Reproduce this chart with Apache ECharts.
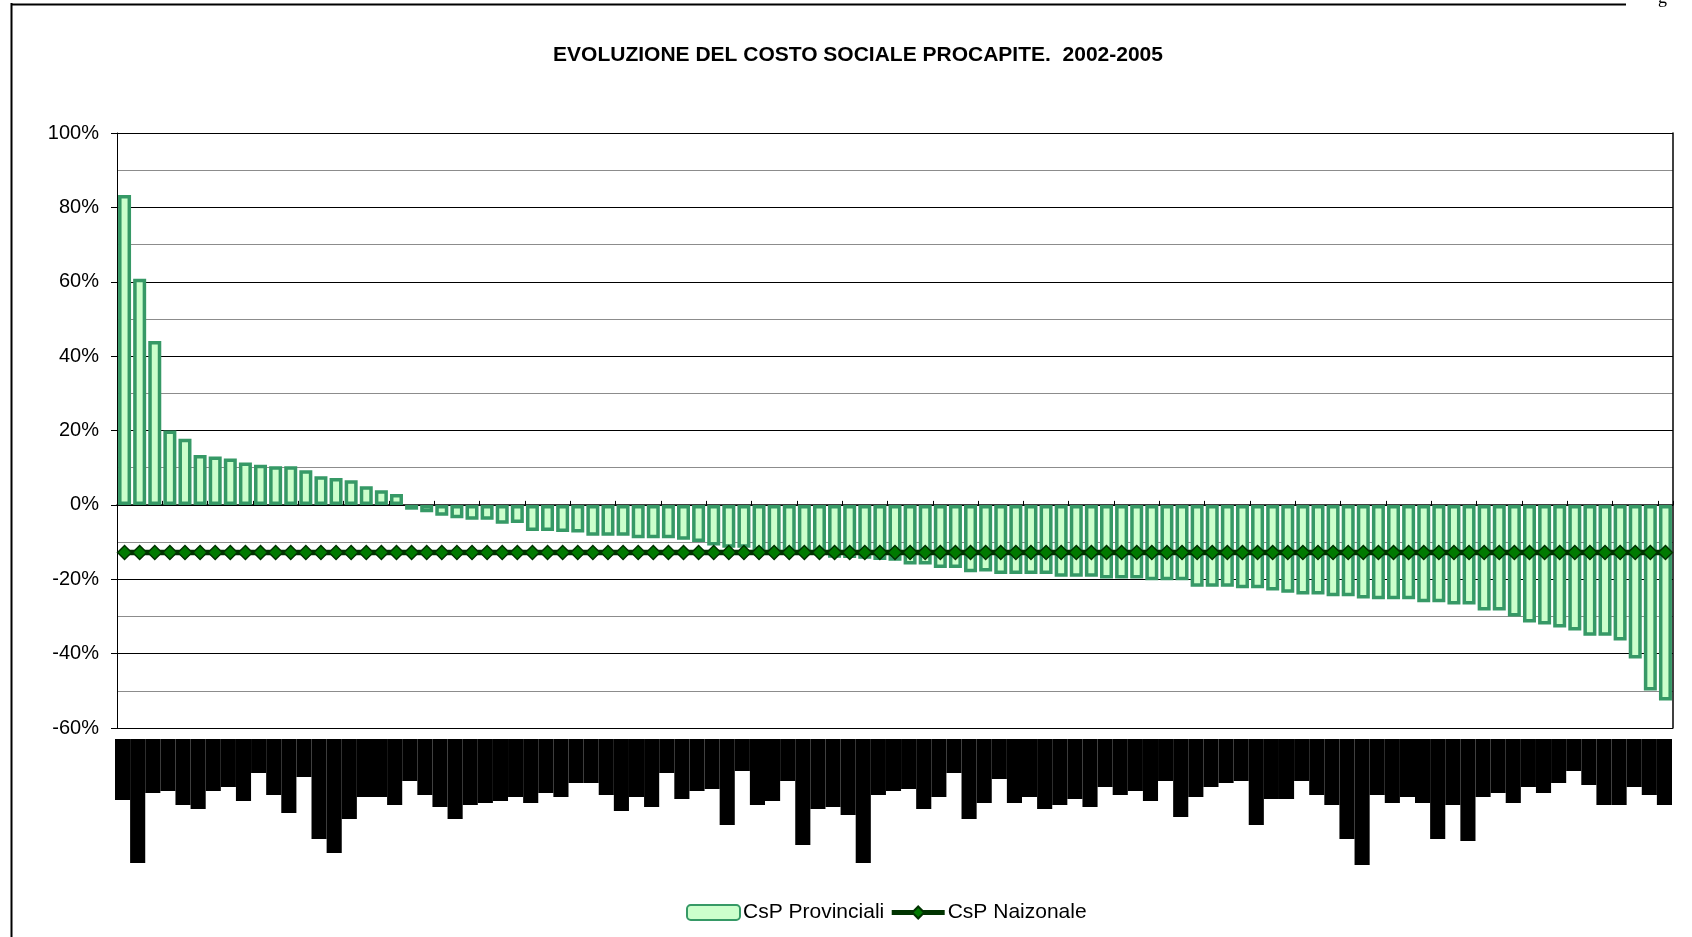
<!DOCTYPE html>
<html>
<head>
<meta charset="utf-8">
<title>Costo sociale procapite</title>
<script src="https://cdn.jsdelivr.net/npm/echarts@6/dist/echarts.min.js"></script>
<style>
    html, body { margin: 0; padding: 0; background: #fff; }
    #csBox { width: 1692px; height: 937px; }
</style>
</head>
<body>
<div id="csBox"></div>
<script>
// variazione % costo sociale procapite 2002-2005, province ordinate
var csProvinciali = [
    83.3, 60.8, 44.1, 20.0, 17.8, 13.4, 13.0, 12.5, 11.4, 10.8,
    10.4, 10.4, 9.3, 7.7, 7.2, 6.6, 5.0, 3.9, 2.9, -1.3,
    -2.0, -2.9, -3.6, -4.0, -4.0, -5.1, -4.9, -7.0, -7.0, -7.3,
    -7.4, -8.3, -8.3, -8.3, -9.0, -9.0, -9.0, -9.4, -10.0, -10.9,
    -11.5, -11.5, -12.2, -12.5, -12.8, -13.1, -13.5, -14.2, -14.3, -14.5,
    -14.8, -15.0, -16.0, -16.0, -17.0, -17.0, -18.1, -17.9, -18.6, -18.6,
    -18.6, -18.6, -19.3, -19.3, -19.3, -19.8, -19.8, -19.8, -20.3, -20.3,
    -20.3, -22.0, -22.0, -22.0, -22.4, -22.4, -23.0, -23.6, -24.1, -24.1,
    -24.6, -24.6, -25.2, -25.4, -25.4, -25.4, -26.2, -26.2, -26.8, -26.8,
    -28.4, -28.4, -30.0, -31.6, -32.2, -33.0, -33.8, -35.2, -35.2, -36.5,
    -41.3, -49.9, -52.6
];
var csNazionale = -12.8;

// lunghezza delle etichette (illeggibili, rese come blocchi neri)
var labelLen = [
    61, 124, 54, 52, 66, 70, 52, 48, 62, 34,
    56, 74, 38, 100, 114, 80, 58, 58, 66, 42,
    56, 68, 80, 66, 64, 62, 58, 64, 54, 58,
    44, 44, 56, 72, 58, 68, 34, 60, 52, 50,
    86, 32, 66, 62, 42, 106, 70, 68, 76, 124,
    56, 52, 50, 70, 58, 34, 80, 64, 40, 64,
    58, 70, 66, 60, 68, 48, 56, 52, 62, 42,
    78, 58, 48, 44, 42, 86, 60, 60, 42, 56,
    66, 100, 126, 56, 64, 58, 64, 100, 66, 102,
    58, 54, 64, 48, 54, 44, 32, 46, 66, 66,
    48, 56, 66
];

var yTicks = { min: -60, max: 100, step: 20 };

function initCostoSociale() {
    var province = [];
    var nazionale = [];
    $each(csProvinciali, function (i) {
        province.push('P' + (i + 1));
        nazionale.push(csNazionale);
    });
    loadCostoSociale(province, nazionale);
}

function $each(arr, fn) {
    for (var i = 0; i < arr.length; i++) {
        fn(i, arr[i]);
    }
}

function loadCostoSociale(province, nazionale) {
    var fontName = "'Liberation Sans', Arial, sans-serif";
    var option_cs = {
        animation: false,
        title: {
            text: 'EVOLUZIONE DEL COSTO SOCIALE PROCAPITE.  2002-2005',
            left: 853,
            top: 40,
            textAlign: 'center',
            textStyle: {
                fontFamily: fontName,
                fontSize: 21,
                fontWeight: 'bold',
                color: '#000'
            }
        },
        legend: {
            left: 681,
            top: 897,
            itemWidth: 53,
            itemHeight: 15,
            itemGap: 5,
            data: [
                { name: 'CsP Provinciali' },
                { name: 'CsP Naizonale', lineStyle: { width: 5, color: '#003300' } }
            ],
            textStyle: {
                fontFamily: fontName,
                fontSize: 21,
                color: '#000',
                padding: [0, 0, 0, -2]
            }
        },
        grid: [
            { left: 117, right: 19, top: 133, bottom: 209 },
            { left: 115, right: 20, top: 739, bottom: 0 }
        ],
        xAxis: [
            {
                type: 'category',
                gridIndex: 0,
                data: province,
                axisLine: { onZero: true, lineStyle: { color: '#000', width: 1.5 } },
                axisTick: { show: true, inside: true, length: 4, lineStyle: { color: '#000' } },
                axisLabel: { show: false },
                splitLine: { show: false }
            },
            {
                type: 'category',
                gridIndex: 1,
                data: province,
                show: false
            }
        ],
        yAxis: [
            {
                type: 'value',
                gridIndex: 0,
                min: yTicks.min,
                max: yTicks.max,
                interval: yTicks.step,
                axisLine: { show: true, lineStyle: { color: '#000', width: 1 } },
                axisTick: { show: true, length: 6, lineStyle: { color: '#000' } },
                axisLabel: {
                    formatter: '{value}%',
                    margin: 18,
                    fontFamily: fontName,
                    fontSize: 20,
                    color: '#000'
                },
                splitLine: { show: true, lineStyle: { color: '#000', width: 1 } },
                minorTick: { show: false, splitNumber: 2 },
                minorSplitLine: { show: true, lineStyle: { color: '#8c8c8c', width: 1 } }
            },
            {
                type: 'value',
                gridIndex: 0,
                position: 'right',
                min: yTicks.min,
                max: yTicks.max,
                interval: yTicks.step,
                axisLine: { show: true, lineStyle: { color: '#000', width: 1.5 } },
                axisTick: { show: false },
                axisLabel: { show: false },
                splitLine: { show: false }
            },
            {
                type: 'value',
                gridIndex: 1,
                inverse: true,
                min: 0,
                max: 198,
                show: false
            }
        ],
        series: [
            {
                name: 'CsP Provinciali',
                type: 'bar',
                xAxisIndex: 0,
                yAxisIndex: 0,
                barWidth: 13,
                itemStyle: {
                    color: '#ccffcc',
                    borderColor: '#369966',
                    borderWidth: 3.5
                },
                data: csProvinciali,
                z: 2
            },
            {
                name: 'CsP Naizonale',
                type: 'line',
                xAxisIndex: 0,
                yAxisIndex: 0,
                symbol: 'diamond',
                symbolSize: 14,
                showAllSymbol: true,
                lineStyle: { color: '#003300', width: 5.5 },
                itemStyle: { color: '#007a00', borderColor: '#003300', borderWidth: 1.5 },
                data: nazionale,
                z: 3
            },
            {
                name: 'etichette',
                type: 'bar',
                xAxisIndex: 1,
                yAxisIndex: 2,
                barWidth: '100%',
                barGap: 0,
                itemStyle: { color: '#000' },
                data: labelLen,
                silent: true
            }
        ],
        graphic: [
            {
                type: 'line',
                shape: { x1: 11.5, y1: 3, x2: 11.5, y2: 937 },
                style: { stroke: '#000', lineWidth: 2 }
            },
            {
                type: 'line',
                shape: { x1: 11, y1: 4.5, x2: 1626, y2: 4.5 },
                style: { stroke: '#000', lineWidth: 2 }
            },
            {
                type: 'text',
                left: 1658,
                top: -11,
                style: { text: 'g', font: "18px 'Liberation Serif', serif", fill: '#000' }
            }
        ]
    };

    var myChart_cs = echarts.init(document.getElementById('csBox'));
    myChart_cs.setOption(option_cs);
}

initCostoSociale();
</script>
</body>
</html>
